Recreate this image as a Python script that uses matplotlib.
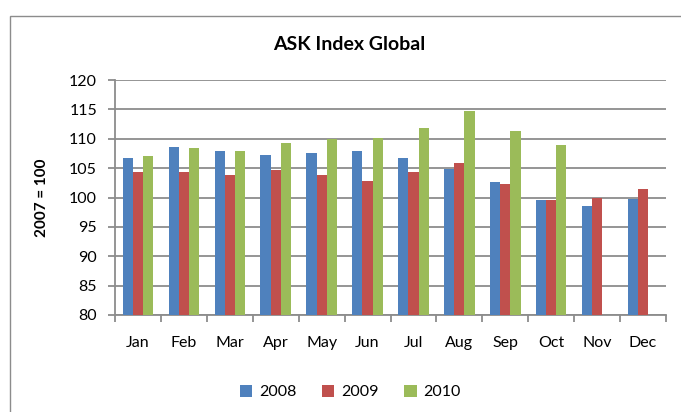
import matplotlib.pyplot as plt
import numpy as np
from matplotlib.patches import Rectangle

plt.rcParams['font.family'] = ['Lato', 'DejaVu Sans']

months = ["Jan", "Feb", "Mar", "Apr", "May", "Jun", "Jul", "Aug", "Sep", "Oct", "Nov", "Dec"]
idx_2008 = [106.7, 108.6, 107.9, 107.2, 107.6, 107.9, 106.7, 104.8, 102.6, 99.5, 98.5, 99.7]
idx_2009 = [104.3, 104.3, 103.8, 104.6, 103.8, 102.8, 104.3, 105.8, 102.3, 99.5, 99.9, 101.4]
idx_2010 = [107.0, 108.4, 107.9, 109.3, 109.9, 110.1, 111.8, 114.7, 111.3, 108.9, None, None]

fig = plt.figure(figsize=(6.81, 4.12), dpi=100)
# chart area border (only top/left visible in the reference)
fig.patches.append(Rectangle((10 / 681, -0.1), 1.2, (412 - 16) / 412 + 0.1,
                             transform=fig.transFigure, fill=False,
                             edgecolor='#8c8c8c', linewidth=1.0))

ax = fig.add_axes([115 / 681, (412 - 315) / 412, (666 - 115) / 681, (315 - 80) / 412])

x = np.arange(len(months))
w = 0.222
series = [("2008", idx_2008, "#4F81BD"), ("2009", idx_2009, "#C0504D"), ("2010", idx_2010, "#9BBB59")]
for k, (name, vals, col) in enumerate(series):
    xs = [xi + (k - 1) * w for xi, v in zip(x, vals) if v is not None]
    hs = [v - 80 for v in vals if v is not None]
    ax.bar(xs, hs, bottom=80, width=w, color=col, label=name, zorder=3)

ax.set_ylim(80, 120)
ax.set_xlim(-0.5, 11.5)
ax.set_yticks(range(80, 121, 5))
ax.yaxis.grid(True, color='#8c8c8c', linewidth=1.3, zorder=0)
ax.set_axisbelow(True)

ax.set_xticks(x)
ax.set_xticklabels(months, fontsize=11.5)
ax.set_xticks(np.arange(-0.5, 12, 1), minor=True)
ax.tick_params(axis='x', which='major', length=0, pad=15)
ax.tick_params(axis='x', which='minor', length=5, color='#8c8c8c', width=1.3)
ax.tick_params(axis='y', length=5, color='#8c8c8c', width=1.3, labelsize=11.5, pad=8)

for s in ['top', 'right']:
    ax.spines[s].set_visible(False)
for s in ['left', 'bottom']:
    ax.spines[s].set_color('#8c8c8c')
    ax.spines[s].set_linewidth(1.3)

ax.set_ylabel("2007 = 100", fontsize=11, fontweight='bold', labelpad=14)
fig.text(349 / 681, 1 - 45 / 412, "ASK Index Global", ha='center', va='center',
         fontsize=14, fontweight='bold')

fig.legend(loc='center', bbox_to_anchor=(350 / 681, 1 - 392 / 412), ncol=3,
           frameon=False, fontsize=11.5, handlelength=0.8, handleheight=0.8,
           handletextpad=0.4, columnspacing=1.6)

fig.savefig("out.png", dpi=100)
